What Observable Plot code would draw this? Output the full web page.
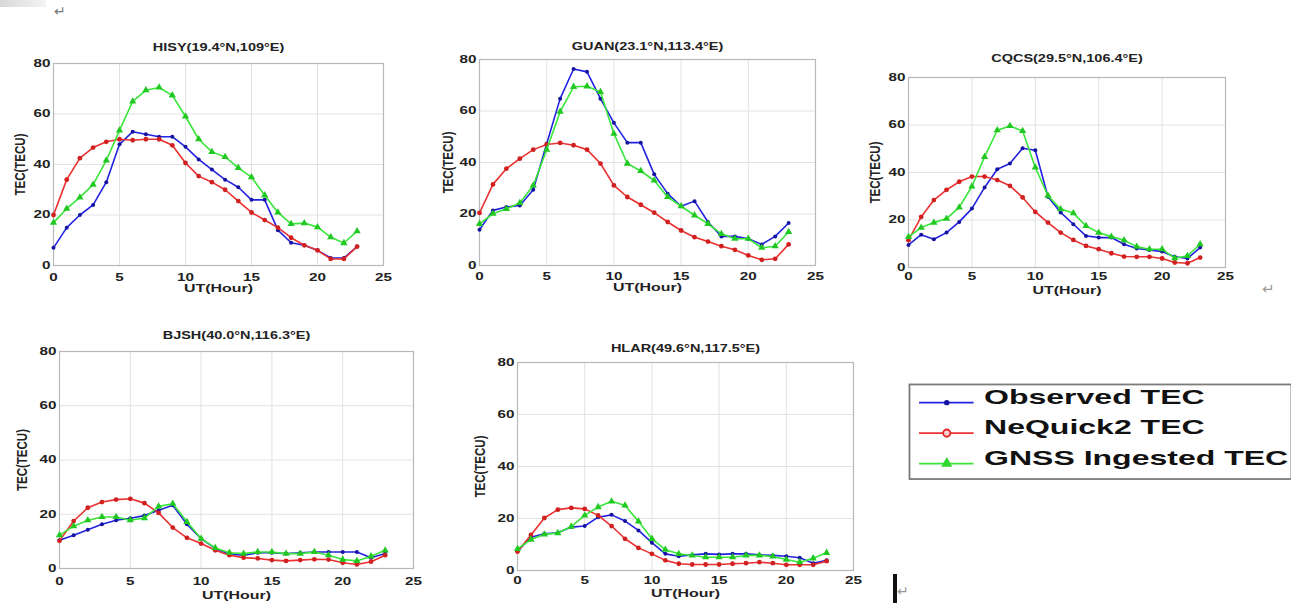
<!DOCTYPE html>
<html><head><meta charset="utf-8">
<script src="https://cdn.jsdelivr.net/npm/d3@7"></script>
<script src="https://cdn.jsdelivr.net/npm/@observablehq/plot@0.6"></script>
<style>
html,body{margin:0;padding:0;background:#fff;overflow:hidden;}
#root{position:relative;width:1291px;height:603px;overflow:hidden;background:#fff;}
.pane{position:absolute;}
.pm{position:absolute;font-family:"DejaVu Sans",sans-serif;line-height:1;}
</style></head><body><div id="root"></div>
<script>
// ---------------- data ----------------
const hours = [0,1,2,3,4,5,6,7,8,9,10,11,12,13,14,15,16,17,18,19,20,21,22,23];
const xTicks = [0,5,10,15,20,25];
const yTicks = [0,20,40,60,80];
const seriesNames = ["Observed TEC","NeQuick2 TEC","GNSS Ingested TEC"];
const stationTitles = ["HISY(19.4°N,109°E)","GUAN(23.1°N,113.4°E)","CQCS(29.5°N,106.4°E)","BJSH(40.0°N,116.3°E)","HLAR(49.6°N,117.5°E)"];
const xLabel = "UT(Hour)";
const yLabel = "TEC(TECU)";

const hisyObserved = [7,15,20,24,33,48,53,52,51,51,47,42,38,34,31,26,26,14,9,8,6,3,3,7.5];
const hisyNeQuick  = [20,34,42.5,46.7,49,50,49.6,50,50,47.6,40.6,35.4,33,30,25.5,21,18,15,11,8,6,2.6,2.6,7.5];
const hisyGnss     = [17,22.5,27,32,41.6,53.5,65,69.4,70.5,67.4,59,50,45,43,38.7,35,27.8,21,16.5,16.8,15.2,11.2,8.9,13.6];

const guanObserved = [13.9,21.4,22.7,23.3,29.4,47.3,64.8,76.3,75.2,64.8,55.4,47.7,47.7,35.4,27.9,23,25,16.9,11.3,11.3,10.4,8.2,11.3,16.5];
const guanNeQuick  = [20.4,31.5,37.6,41.5,45,47,47.6,46.7,45,39.6,31.1,26.6,23.6,20.5,16.9,13.6,11,9.3,7.5,6.1,3.9,2.2,2.6,8.2];
const guanGnss     = [16.2,20.1,22,24.3,31.1,45,59.7,69.4,69.6,67.4,51.2,39.6,36.7,33,26.6,23,19.5,16.2,12.3,10.4,10.4,6.9,7.5,13];

const cqcsObserved = [9.5,13.8,11.9,14.7,19.2,24.8,33.7,41.4,43.8,50.2,49.4,29.8,23.2,18.2,13.3,12.6,12.6,9.8,8,7.4,6.7,4.5,3.8,8.4];
const cqcsNeQuick  = [11.5,21.3,28.4,32.7,36.1,38.3,38.3,36.8,34.4,29.5,23.4,18.9,14.7,11.6,9.1,7.7,6,4.6,4.5,4.5,3.8,2.1,1.8,4.2];
const cqcsGnss     = [12.9,16.8,18.9,20.6,25.3,34.1,46.6,57.8,59.6,57.5,42.1,30.2,24.6,22.9,17.5,14.7,13,11.5,8.8,7.7,7.7,3.9,4.9,9.8];

const bjshObserved = [10.4,12.3,14.3,16.3,17.8,18.5,19.5,21.5,23.3,16.3,11,7.4,5.3,4.9,5.8,5.8,5.5,5.8,6.1,6.1,6.1,6.1,4,5.5];
const bjshNeQuick  = [10.2,17.5,22.4,24.5,25.4,25.7,24.1,20.5,15.1,11.3,9.2,6.7,4.9,4,3.7,3.1,2.8,3.1,3.4,3.3,2.1,1.5,2.5,4.9];
const bjshGnss     = [12.3,15.6,17.8,19,19,17.8,18.6,22.9,23.9,17.2,11,7.6,5.8,5.5,6.1,6.1,5.5,5.5,6.1,4.9,3.3,2.8,4.5,6.7];

const hlarObserved = [7.3,12.8,14.1,14.5,16.7,17.1,20.5,21.4,19,15.4,10.7,6.4,5.5,6,6.4,6.2,6.4,6.4,6,5.8,5.5,4.9,2.8,3.9];
const hlarNeQuick  = [7.3,13.7,20.2,23.4,24.1,23.7,21.2,17.1,12.2,8.7,6.4,3.9,2.6,2.3,2.3,2.3,2.6,2.8,3.2,2.8,2.2,2.2,2.2,3.6];
const hlarGnss     = [8.3,11.9,13.9,14.4,16.9,21.2,24.4,26.6,25,18.9,12.2,8,6.4,5.8,5.1,5.1,5.1,5.8,5.8,5.4,4.2,3.2,4.7,6.8];

const stationValues = [
  [hisyObserved,hisyNeQuick,hisyGnss],
  [guanObserved,guanNeQuick,guanGnss],
  [cqcsObserved,cqcsNeQuick,cqcsGnss],
  [bjshObserved,bjshNeQuick,bjshGnss],
  [hlarObserved,hlarNeQuick,hlarGnss]
];

// ---------------- layout & style ----------------
const layout = [
  {fx:53,  fw:330, fy:63,  fh:202, tdy:16, xdy:23, ydx:33, tp:8},
  {fx:479, fw:336, fy:59,  fh:206, tdy:13, xdy:22, ydx:31, tp:7},
  {fx:908, fw:317, fy:77,  fh:190, tdy:19, xdy:23, ydx:33, tp:5},
  {fx:59,  fw:354, fy:351, fh:217, tdy:16, xdy:27, ydx:37, tp:9},
  {fx:517, fw:336, fy:362, fh:208, tdy:14, xdy:23, ydx:37, tp:6}
];
const styles = [
  {line:"#2222e0", mark:"#1414a0", symbol:"circle",   r:2.0},
  {line:"#ea3030", mark:"#d02020", symbol:"circle",   r:2.4},
  {line:"#3ae63a", mark:"#22c822", symbol:"triangle", r:2.7}
];
const FONT = "'Liberation Sans', Arial, sans-serif";
const SX = 1.45;

function stretchText(svg, sx, sy) {
  svg.querySelectorAll("text").forEach(t => {
    const tr = t.getAttribute("transform");
    if (tr && tr.includes("rotate")) t.setAttribute("transform", tr + ` scale(1,${sy})`);
    else if (tr) t.setAttribute("transform", tr + ` scale(${sx},1)`);
    else {
      const x = parseFloat(t.getAttribute("x")) || 0;
      t.setAttribute("transform", `translate(${x},0) scale(${sx},1) translate(${-x},0)`);
    }
  });
}

const root = document.getElementById("root");
const ML = 55, MR = 12, MT = 32, MB = 42;

stationTitles.forEach((title, p) => {
  const L = layout[p];
  const marks = [
    Plot.gridX(xTicks, {stroke:"#e2e2e2", strokeOpacity:1, strokeWidth:1}),
    Plot.gridY(yTicks, {stroke:"#e2e2e2", strokeOpacity:1, strokeWidth:1}),
    Plot.frame({stroke:"#b8b8b8", strokeWidth:1.2})
  ];
  seriesNames.forEach((name, k) => {
    const rows = hours.map((h, i) => ({hour:h, tec:stationValues[p][k][i]}));
    const s = styles[k];
    marks.push(Plot.line(rows, {x:"hour", y:"tec", stroke:s.line, strokeWidth:1.6}));
    marks.push(Plot.dot(rows, {x:"hour", y:"tec", r:s.r, symbol:s.symbol, fill:s.mark, stroke:"none"}));
  });
  marks.push(Plot.text([title], {frameAnchor:"top", lineAnchor:"middle", textAnchor:"middle", dy:-L.tdy, fontSize:10, fontWeight:"bold", fill:"#222"}));
  marks.push(Plot.text([xLabel], {frameAnchor:"bottom", lineAnchor:"middle", textAnchor:"middle", dy:L.xdy, fontSize:11, fontWeight:"bold", fill:"#222"}));
  marks.push(Plot.text([yLabel], {frameAnchor:"left", lineAnchor:"middle", textAnchor:"middle", dx:-L.ydx, rotate:-90, fontSize:11.5, fontWeight:"bold", fill:"#222"}));

  const svg = Plot.plot({
    width: L.fw + ML + MR, height: L.fh + MT + MB,
    marginLeft: ML, marginRight: MR, marginTop: MT, marginBottom: MB,
    style: {fontFamily: FONT, fontWeight: "bold", fontSize: "10.5px", color: "#222", background: "transparent", overflow: "visible"},
    x: {domain:[0,25], ticks:xTicks, tickSize:0, tickPadding:L.tp, label:null},
    y: {domain:[0,80], ticks:yTicks, tickSize:0, tickPadding:3, label:null},
    marks
  });
  stretchText(svg, SX, 1.35);
  const div = document.createElement("div");
  div.className = "pane";
  div.style.left = (L.fx - ML) + "px";
  div.style.top = (L.fy - MT) + "px";
  div.appendChild(svg);
  root.appendChild(div);
});

// ---------------- legend ----------------
const legendMarks = [Plot.frame({stroke:"#7c7c7c", strokeWidth:2})];
const legendSymbols = [
  {symbol:"circle", r:3.0, fill:"#1414a0", stroke:"none", sw:0},
  {symbol:"circle", r:4.0, fill:"#ffd0d0", stroke:"#e02a2a", sw:2},
  {symbol:"triangle", r:4.6, fill:"#30d830", stroke:"none", sw:0}
];
seriesNames.forEach((name, k) => {
  legendMarks.push(Plot.ruleY([k], {y: d => d, x1: 11, x2: 71, stroke: styles[k].line, strokeWidth: 1.8}));
  const m = legendSymbols[k];
  legendMarks.push(Plot.dot([k], {y: d => d, x: 41, r: m.r, symbol: m.symbol, fill: m.fill, stroke: m.stroke, strokeWidth: m.sw}));
  legendMarks.push(Plot.text([k], {y: d => d, x: 82, dy: -6, text: d => seriesNames[d], textAnchor: "start", lineAnchor: "middle", fontSize: 22, fontWeight: "bold", fill: "#111"}));
});
const legend = Plot.plot({
  width: 420, height: 104, margin: 0,
  style: {fontFamily: FONT, background: "transparent", overflow: "visible"},
  x: {domain:[0,420], range:[0,420], axis:null},
  y: {domain:[0,2], range:[20,87], axis:null},
  marks: legendMarks
});
stretchText(legend, 1.6, 1);
const ld = document.createElement("div");
ld.className = "pane";
ld.style.left = "909px"; ld.style.top = "384px";
ld.appendChild(legend);
root.appendChild(ld);

// ---------------- document artifacts ----------------
const bar = document.createElement("div");
bar.style.cssText = "position:absolute;left:0;top:0;width:46px;height:7px;background:linear-gradient(90deg,#d8d8d8,#f4f4f4);";
root.appendChild(bar);
function pmark(x, y, size, color) {
  const s = document.createElement("span");
  s.className = "pm"; s.textContent = "↵";
  s.style.left = x + "px"; s.style.top = y + "px"; s.style.fontSize = size + "px"; s.style.color = color;
  root.appendChild(s);
}
pmark(54, 4, 14, "#777");
pmark(1262, 282, 15, "#999");
pmark(897, 584, 14, "#999");
const cursor = document.createElement("div");
cursor.style.cssText = "position:absolute;left:893px;top:574px;width:4px;height:29px;background:#111;";
root.appendChild(cursor);
</script></body></html>
